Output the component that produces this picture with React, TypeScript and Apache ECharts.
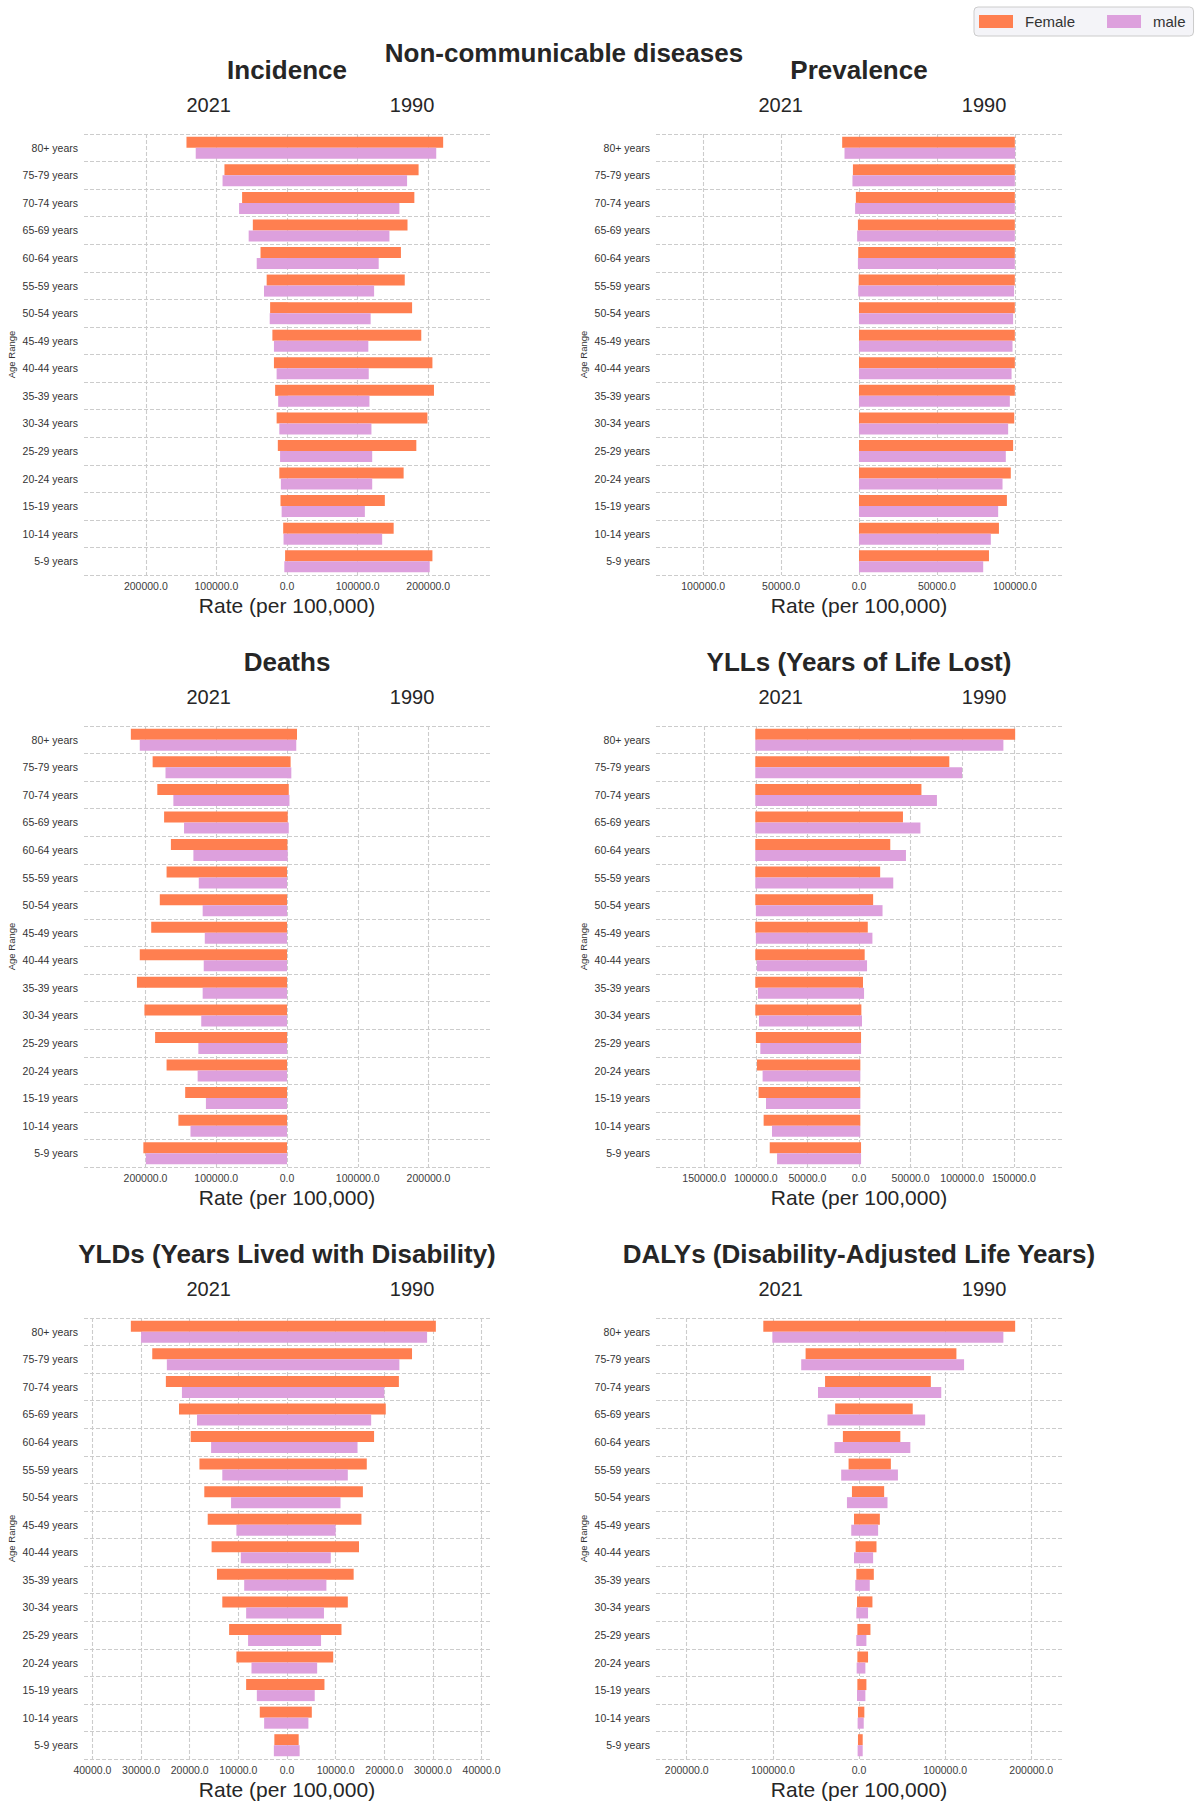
import React, { useEffect, useRef } from "react";
import * as echarts from "echarts";

// age groups, top of each panel first
const ages = [
  "80+ years", "75-79 years", "70-74 years", "65-69 years", "60-64 years", "55-59 years",
  "50-54 years", "45-49 years", "40-44 years", "35-39 years", "30-34 years", "25-29 years",
  "20-24 years", "15-19 years", "10-14 years", "5-9 years",
];

const panelTitles = [
  "Incidence",
  "Prevalence",
  "Deaths",
  "YLLs (Years of Life Lost)",
  "YLDs (Years Lived with Disability)",
  "DALYs (Disability-Adjusted Life Years)",
];

// Incidence
const incF2021 = [142400, 88600, 63600, 48400, 37500, 28800, 23900, 20700, 18500, 16800, 14700, 13000, 10900, 9200, 5400, 2700];
const incF1990 = [221200, 186400, 180400, 170700, 161400, 166800, 177200, 190200, 206000, 208200, 198900, 183200, 165200, 138600, 151100, 206000];
const incM2021 = [129300, 91300, 67900, 54300, 42900, 32600, 24500, 18500, 14700, 12500, 10900, 9800, 8700, 7600, 4900, 3800];
const incM1990 = [211400, 170100, 159200, 145100, 129900, 123400, 118500, 115200, 115800, 116800, 119600, 120700, 120700, 110300, 134800, 202200];

// Prevalence
const prevF2021 = [10800, 3900, 2000, 700, 500, 200, 0, 0, 0, 0, 0, 0, 0, 0, 0, 0];
const prevF1990 = [100000, 100000, 100000, 100000, 100000, 100000, 100000, 100000, 100000, 100000, 99600, 98900, 97400, 94900, 89800, 83400];
const prevM2021 = [9300, 4200, 2500, 1200, 700, 500, 0, 0, 0, 0, 0, 0, 0, 0, 0, 0];
const prevM1990 = [100200, 100000, 100000, 100000, 100000, 99500, 98900, 98500, 97900, 96800, 95700, 94200, 92100, 89300, 84600, 79700];

// Deaths
const dthF2021 = [220700, 189900, 183300, 173700, 164100, 170200, 179800, 191900, 208100, 212100, 201500, 186400, 170200, 143900, 153500, 203000];
const dthF1990 = [14100, 5100, 2500, 1000, 500, 0, 0, 0, 0, 0, 0, 0, 0, 0, 0, 0];
const dthM2021 = [208100, 171700, 160600, 145500, 132300, 124700, 119200, 116200, 117700, 119200, 121200, 125300, 126300, 114600, 136400, 199500];
const dthM1990 = [13100, 6100, 3500, 2500, 1000, 0, 0, 0, 0, 0, 0, 0, 0, 0, 0, 0];

// YLLs
const yllF2021 = [100500, 100500, 100500, 100500, 100500, 100500, 100500, 100500, 100500, 100500, 100500, 99900, 98900, 97300, 92400, 86500];
const yllF1990 = [151300, 87500, 60500, 42600, 30300, 20500, 13700, 8500, 5500, 3900, 2300, 2000, 1300, 1300, 1300, 2000];
const yllM2021 = [100500, 100500, 100500, 100500, 100500, 100500, 99900, 99900, 98900, 97900, 96900, 95600, 93400, 90100, 84300, 79400];
const yllM1990 = [139900, 99900, 75500, 59500, 45500, 33200, 22800, 13000, 7800, 4900, 2900, 2000, 1300, 1300, 1300, 2000];

// YLDs
const yldF2021 = [32100, 27700, 24900, 22200, 19800, 18000, 17000, 16300, 15500, 14400, 13300, 11900, 10400, 8400, 5600, 2600];
const yldF1990 = [30600, 25700, 23000, 20300, 17900, 16400, 15600, 15300, 14800, 13700, 12500, 11200, 9500, 7700, 5100, 2400];
const yldM2021 = [30000, 24700, 21600, 18500, 15600, 13300, 11500, 10400, 9500, 8800, 8400, 8000, 7300, 6200, 4700, 2700];
const yldM1990 = [28800, 23100, 20000, 17300, 14500, 12500, 11000, 10000, 9000, 8100, 7600, 7000, 6200, 5700, 4400, 2600];

// DALYs
const dalyF2021 = [111100, 62000, 39400, 27700, 18700, 12100, 8200, 5800, 3900, 3100, 2300, 1900, 1900, 1900, 1200, 1200];
const dalyF1990 = [181300, 113100, 83400, 62400, 48000, 37000, 29200, 24200, 20300, 17200, 15600, 13300, 10500, 8600, 6200, 4300];
const dalyM2021 = [100600, 67100, 47600, 36600, 28500, 20700, 14000, 9000, 5800, 4300, 3100, 3100, 2700, 2300, 1600, 1600];
const dalyM1990 = [167600, 122000, 95500, 76800, 59600, 45200, 33100, 22200, 16400, 12500, 10500, 8600, 7400, 7400, 5500, 4300];

// tick labels per panel
const incTicks = [-200000, -100000, 0, 100000, 200000];
const prevTicks = [-100000, -50000, 0, 50000, 100000];
const dthTicks = [-200000, -100000, 0, 100000, 200000];
const yllTicks = [-150000, -100000, -50000, 0, 50000, 100000, 150000];
const yldTicks = [-40000, -30000, -20000, -10000, 0, 10000, 20000, 30000, 40000];
const dalyTicks = [-200000, -100000, 0, 100000, 200000];

const panels = [
  { f21: incF2021, f90: incF1990, m21: incM2021, m90: incM1990, ticks: incTicks },
  { f21: prevF2021, f90: prevF1990, m21: prevM2021, m90: prevM1990, ticks: prevTicks },
  { f21: dthF2021, f90: dthF1990, m21: dthM2021, m90: dthM1990, ticks: dthTicks },
  { f21: yllF2021, f90: yllF1990, m21: yllM2021, m90: yllM1990, ticks: yllTicks },
  { f21: yldF2021, f90: yldF1990, m21: yldM2021, m90: yldM1990, ticks: yldTicks },
  { f21: dalyF2021, f90: dalyF1990, m21: dalyM2021, m90: dalyM1990, ticks: dalyTicks },
];

const FEMALE = "#FF7F50";
const MALE = "#DDA0DD";
const FONT = "'Liberation Sans', Arial, Helvetica, sans-serif";
const TEXT = "#262626";

const colLeft = [84, 656];
const rowTop = [134, 726, 1318];
const gridW = 406;
const gridH = 441;

const App: React.FC = () => {
  const chartRef = useRef<HTMLDivElement>(null);

  useEffect(() => {
    document.body.style.margin = "0";
    if (!chartRef.current) return;

    const grids: any[] = [];
    const xAxes: any[] = [];
    const yAxes: any[] = [];
    const series: any[] = [];
    const texts: any[] = [];

    const dash = { type: [4, 2], color: "#cccccc", width: 1.1 };

    panels.forEach((p, i) => {
      const left = colLeft[i % 2];
      const top = rowTop[Math.floor(i / 2)];
      const maxVal = Math.max(...p.f21, ...p.f90, ...p.m21, ...p.m90);
      const ext = maxVal * 1.3;

      grids.push({ left, top, width: gridW, height: gridH, outerBoundsMode: "none" });

      xAxes.push({
        type: "value",
        gridIndex: i,
        min: -ext,
        max: ext,
        name: "Rate (per 100,000)",
        nameLocation: "middle",
        nameGap: 20,
        nameTextStyle: { fontSize: 21, color: TEXT, fontFamily: FONT },
        axisLine: { show: false },
        axisTick: { show: false, customValues: p.ticks },
        axisLabel: {
          customValues: p.ticks,
          formatter: (v: number) => Math.abs(v).toFixed(1),
          fontSize: 10.5,
          color: "#3c3c3c",
          fontFamily: FONT,
          margin: 5,
        },
        splitLine: { show: true, lineStyle: dash },
      });

      yAxes.push({
        type: "category",
        gridIndex: i,
        data: ages,
        inverse: true,
        name: "Age Range",
        nameLocation: "middle",
        nameGap: 68,
        nameTextStyle: { fontSize: 9.5, color: "#333", fontFamily: FONT },
        axisLine: { show: false },
        axisTick: { show: false },
        axisLabel: { interval: 0, fontSize: 10.5, color: "#333", fontFamily: FONT, margin: 6 },
        splitLine: { show: true, interval: 0, lineStyle: dash },
      });

      const common = { type: "bar", xAxisIndex: i, yAxisIndex: i, barWidth: "40%", barGap: "0%" };
      series.push(
        { ...common, name: "Female", stack: "F" + i, data: p.f21.map((v) => -v), itemStyle: { color: FEMALE } },
        { ...common, name: "Female", stack: "F" + i, data: p.f90, itemStyle: { color: FEMALE } },
        { ...common, name: "male", stack: "M" + i, data: p.m21.map((v) => -v), itemStyle: { color: MALE } },
        { ...common, name: "male", stack: "M" + i, data: p.m90, itemStyle: { color: MALE } }
      );

      texts.push(
        {
          type: "text",
          x: left + gridW / 2,
          y: top - 64,
          style: { text: panelTitles[i], font: `bold 26px ${FONT}`, fill: TEXT, align: "center", verticalAlign: "middle" },
        },
        {
          type: "text",
          x: left + gridW * 0.307,
          y: top - 29,
          style: { text: "2021", font: `20px ${FONT}`, fill: TEXT, align: "center", verticalAlign: "middle" },
        },
        {
          type: "text",
          x: left + gridW * 0.808,
          y: top - 29,
          style: { text: "1990", font: `20px ${FONT}`, fill: TEXT, align: "center", verticalAlign: "middle" },
        }
      );
    });

    texts.push({
      type: "text",
      x: 564,
      y: 53,
      style: { text: "Non-communicable diseases", font: `bold 26px ${FONT}`, fill: TEXT, align: "center", verticalAlign: "middle" },
    });

    const option = {
      animation: false,
      backgroundColor: "#ffffff",
      legend: {
        data: ["Female", "male"],
        left: 974,
        top: 7,
        padding: [7, 8, 7, 5],
        itemWidth: 34,
        itemHeight: 13,
        itemGap: 32,
        icon: "rect",
        borderColor: "#cccccc",
        borderWidth: 1,
        borderRadius: 4,
        backgroundColor: "#f4f4f8",
        textStyle: { fontSize: 15, color: "#333", fontFamily: FONT, padding: [0, 0, 0, 7] },
      },
      grid: grids,
      xAxis: xAxes,
      yAxis: yAxes,
      series,
      graphic: texts,
    };

    const myChart = echarts.init(chartRef.current, null, { renderer: "svg" });
    myChart.setOption(option);

    return () => {
      myChart.dispose();
    };
  }, []);

  return <div ref={chartRef} style={{ width: "1200px", height: "1806px" }} />;
};

export default App;
